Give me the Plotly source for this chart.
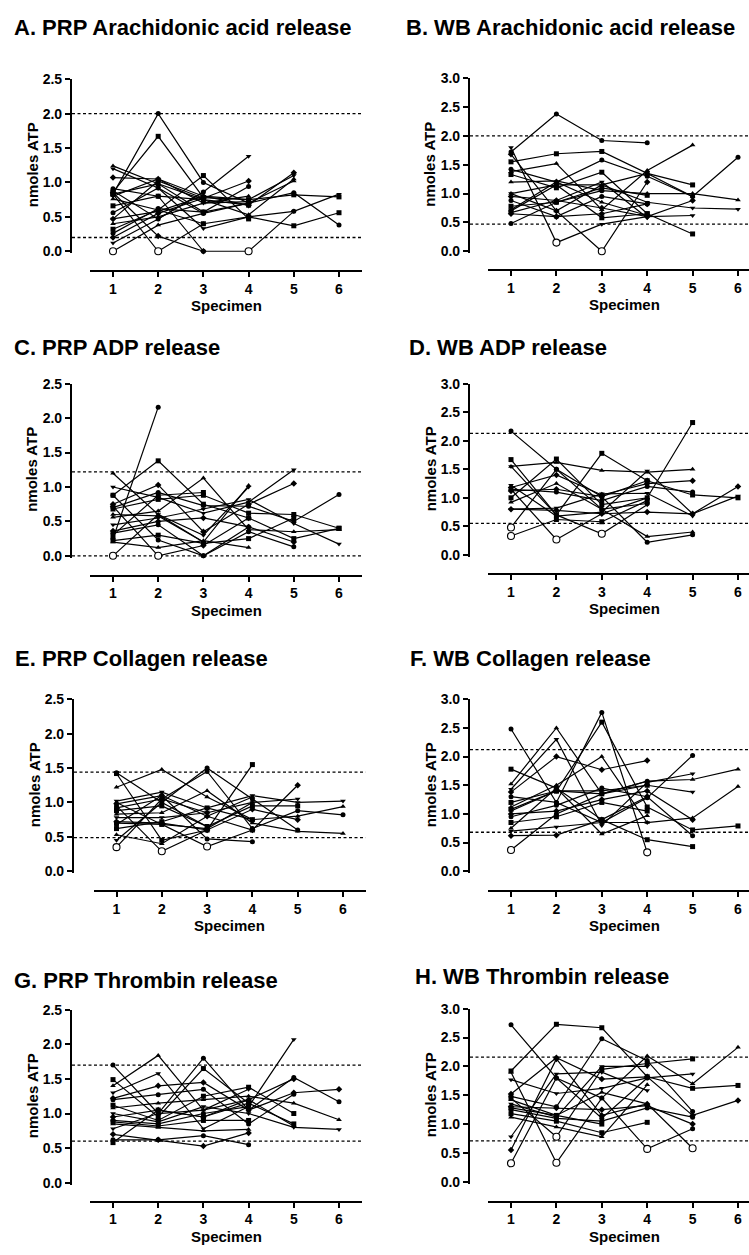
import plotly.graph_objects as go

W, H = 749, 1255

# ---------------- DATA ----------------
SPECIMENS = [1, 2, 3, 4, 5, 6]
TITLES = ["A. PRP Arachidonic acid release", "B. WB Arachidonic acid release",
          "C. PRP ADP release", "D. WB ADP release",
          "E. PRP Collagen release", "F. WB Collagen release",
          "G. PRP Thrombin release", "H. WB Thrombin release"]
Y_LABEL = "nmoles ATP"
X_LABEL = "Specimen"
YMAX = [2.5, 3.0, 2.5, 3.0, 2.5, 3.0, 2.5, 3.0]

# each inner list = one subject, values for specimen 1, 2, 3 ...
PRP_AA = [
    [0.83, 2.00, 1.00, 0.70, 0.85, 0.38],
    [0.86, 1.67, 0.78, 0.75, 0.82, 0.79],
    [1.24, 0.98, 0.75, 0.53, 1.05],
    [1.20, 0.92, 0.33, 0.50, 0.58, 0.83],
    [1.07, 1.05, 0.80, 0.67, 1.14],
    [0.91, 0.80, 0.00, 0.00, 0.58],
    [0.83, 0.00, 0.40, 0.50, 0.37, 0.56],
    [0.00, 0.38, 0.55, 0.70, 1.02],
    [0.12, 0.47, 0.86, 1.38],
    [0.20, 0.55, 0.77, 1.02],
    [0.26, 0.62, 0.57, 0.94],
    [0.32, 0.60, 1.10, 0.47],
    [0.40, 0.50, 0.70, 0.80],
    [0.47, 0.58, 0.80, 0.75, 1.10],
    [0.47, 1.02, 0.77],
    [0.56, 0.92, 0.55],
    [0.66, 0.80, 0.75, 0.67],
    [0.76, 0.60, 0.40],
    [0.80, 1.05, 0.70, 0.72],
    [0.85, 0.22, 0.00],
    [0.88, 0.47, 0.86],
    [0.83, 0.98, 0.57, 0.70],
]
PRP_AA_OPEN = [(7, 1), (6, 2), (5, 4)]
PRP_AA_REF = [0.20, 2.00]

WB_AA = [
    [1.72, 2.38, 1.92, 1.88],
    [1.55, 1.69, 1.73, 1.35, 1.15],
    [1.38, 1.52, 0.72, 1.40, 1.84],
    [1.80, 0.15, 0.47, 0.60, 0.62],
    [1.68, 0.70, 0.00, 1.20],
    [1.42, 1.20, 1.58, 1.30, 0.95, 1.63],
    [1.33, 1.10, 1.37, 0.65, 0.30],
    [1.20, 1.22, 1.05, 1.00, 1.00, 0.89],
    [1.00, 1.15, 1.15, 0.85, 0.75, 0.73],
    [0.95, 0.88, 0.75, 0.60, 0.88],
    [0.88, 0.60, 0.95, 0.82],
    [0.78, 0.85, 1.10, 0.97],
    [0.72, 1.20, 0.85, 0.62],
    [0.67, 0.88, 1.20, 0.58],
    [0.65, 0.60, 0.65, 0.82],
    [0.48, 0.85, 1.05],
    [0.70, 1.15, 0.58, 0.65],
    [1.00, 0.70, 1.15, 1.35, 0.95],
]
WB_AA_OPEN = [(3, 2), (4, 3)]
WB_AA_REF = [0.47, 2.00]

PRP_ADP = [
    [0.25, 2.16],
    [0.88, 1.38, 0.75, 0.55, 0.25, 0.40],
    [1.20, 0.60, 0.20, 1.02],
    [1.00, 0.85, 0.62, 0.78, 1.25],
    [0.75, 1.03, 0.35, 0.75, 1.05],
    [0.70, 0.92, 0.73, 0.72, 0.50, 0.89],
    [0.68, 0.82, 0.88, 0.62, 0.60, 0.40],
    [0.56, 0.65, 1.13, 0.38, 0.35, 0.38],
    [0.45, 0.55, 0.68, 0.82, 0.47, 0.17],
    [0.36, 0.50, 0.55, 0.42, 0.20],
    [0.33, 0.45, 0.00, 0.35, 0.13],
    [0.22, 0.30, 0.18, 0.25, 0.55],
    [0.20, 0.12, 0.22, 0.12],
    [0.00, 0.60, 0.30, 1.00],
    [0.72, 0.00, 0.15, 0.55],
    [0.88, 0.23, 0.00, 0.42],
    [0.30, 0.88, 0.92],
    [0.60, 0.58, 0.20],
]
PRP_ADP_OPEN = [(13, 1), (14, 2)]
PRP_ADP_REF = [0.00, 1.22]

WB_ADP = [
    [2.17, 1.50, 1.02, 0.22, 0.35],
    [1.67, 0.70, 1.78, 1.30, 1.05, 1.00],
    [1.55, 1.62, 1.48, 1.45, 1.50],
    [1.22, 0.68, 0.75, 1.47, 0.72, 1.03],
    [1.18, 1.40, 1.05, 1.25, 1.30],
    [1.15, 1.10, 0.95, 1.20, 1.10],
    [1.00, 1.68, 0.88, 1.00, 2.32],
    [0.92, 1.25, 0.80, 0.32, 0.40],
    [0.80, 0.82, 1.07, 1.08, 0.68],
    [0.80, 0.78, 0.72, 0.75, 0.72, 1.20],
    [0.48, 1.50, 0.80, 0.90],
    [0.33, 0.62, 0.58, 0.95],
    [1.15, 0.27, 0.72, 1.00],
    [1.55, 0.70, 0.37, 0.88],
    [1.12, 1.15, 1.02, 1.30],
]
WB_ADP_OPEN = [(10, 1), (11, 1), (12, 2), (13, 3)]
WB_ADP_REF = [0.55, 2.13]

PRP_COL = [
    [1.43, 1.00, 1.50, 1.05, 0.60],
    [1.42, 0.45, 0.60, 1.55],
    [1.22, 1.48, 1.08, 0.75, 0.80, 0.94],
    [1.02, 1.15, 0.92, 1.10, 1.00, 1.02],
    [0.98, 1.10, 0.80, 0.60, 1.25],
    [0.92, 1.05, 1.45, 0.62, 0.88, 0.82],
    [0.88, 0.95, 0.65, 0.95, 0.95],
    [0.83, 0.85, 1.17, 0.70, 0.58, 0.55],
    [0.78, 0.78, 0.85, 1.00, 1.05],
    [0.72, 0.70, 0.60, 0.90, 0.75],
    [0.68, 1.10, 0.47, 0.43],
    [0.62, 0.72, 0.92, 0.75],
    [0.53, 0.40, 0.80, 1.08],
    [0.45, 1.00, 0.65],
    [0.35, 1.05, 0.85],
    [0.95, 0.29, 0.60],
    [0.70, 0.68, 0.36, 0.60],
    [1.00, 0.68, 0.62, 1.00],
]
PRP_COL_OPEN = [(14, 1), (15, 2), (16, 3)]
PRP_COL_REF = [0.49, 1.44]

WB_COL = [
    [2.48, 1.20, 0.85, 1.28, 2.02],
    [1.78, 1.45, 0.90, 0.55, 0.43],
    [1.52, 2.50, 1.35, 1.57, 1.60, 1.78],
    [1.43, 2.30, 0.80, 1.55, 1.70],
    [1.38, 2.00, 1.77, 1.93],
    [1.30, 1.20, 2.77, 0.33],
    [1.20, 1.40, 2.60, 1.12, 0.72, 0.79],
    [1.12, 1.50, 2.00, 0.85, 0.93, 1.48],
    [1.05, 1.40, 1.40, 1.50, 1.38],
    [1.00, 1.05, 1.25, 1.40, 0.90],
    [0.95, 1.15, 1.45, 1.30, 0.62],
    [0.85, 0.95, 1.20, 1.05],
    [0.75, 1.45, 0.65, 0.97],
    [0.70, 0.77, 0.85, 0.85],
    [0.62, 0.63, 0.90, 1.30],
    [0.37, 1.00, 1.35, 1.57],
    [1.08, 1.40, 1.35, 1.50],
]
WB_COL_OPEN = [(5, 4), (15, 1)]
WB_COL_REF = [0.68, 2.12]

PRP_THR = [
    [1.70, 1.00, 1.80, 1.05, 1.52, 1.17],
    [1.49, 0.95, 1.65, 1.15, 0.85],
    [1.40, 1.84, 1.05, 1.20, 0.82],
    [1.30, 1.58, 0.78, 1.10, 2.07],
    [1.22, 1.40, 1.45, 1.05, 1.30, 1.35],
    [1.20, 1.27, 1.35, 0.85, 1.28],
    [1.12, 0.90, 1.25, 1.38, 1.00],
    [1.08, 1.15, 1.20, 1.25, 1.15, 0.91],
    [1.00, 0.88, 1.10, 1.00, 0.80, 0.77],
    [0.95, 1.05, 0.95, 1.20, 1.50],
    [0.90, 0.85, 1.00, 1.10],
    [0.88, 0.82, 0.90, 0.90],
    [0.85, 0.80, 0.75, 0.77],
    [0.78, 1.00, 1.05, 1.35],
    [0.70, 0.62, 0.53, 0.72],
    [0.62, 0.62, 0.68, 0.55],
    [0.58, 1.05, 0.95, 1.15],
]
PRP_THR_OPEN = []
PRP_THR_REF = [0.60, 1.70]

WB_THR = [
    [2.72, 1.80, 1.45, 0.57, 0.92],
    [1.92, 2.73, 2.67, 1.82, 1.62, 1.67],
    [1.90, 0.33, 1.45, 2.18, 1.70, 2.33],
    [1.77, 1.53, 1.62, 1.80, 1.87],
    [1.52, 2.15, 1.78, 1.82, 1.15, 1.41],
    [1.48, 1.30, 2.48, 2.10, 1.22],
    [1.45, 0.78, 1.95, 2.05, 2.13],
    [1.42, 1.15, 1.55, 1.35, 0.58],
    [1.35, 1.12, 2.00, 2.00],
    [1.30, 1.28, 1.25, 1.32, 1.00],
    [1.25, 1.10, 1.05, 1.28, 1.12],
    [1.18, 1.05, 0.85, 1.03],
    [1.12, 0.95, 0.78, 1.68],
    [0.78, 1.87, 1.90, 1.58],
    [0.55, 2.13, 1.15, 1.35],
    [0.32, 1.80, 1.10, 1.80],
    [1.28, 1.15, 1.00],
]
WB_THR_OPEN = [(0, 4), (2, 2), (6, 2), (7, 5), (15, 1)]
WB_THR_REF = [0.71, 2.16]

PANEL_DATA = [PRP_AA, WB_AA, PRP_ADP, WB_ADP, PRP_COL, WB_COL, PRP_THR, WB_THR]
PANEL_OPEN = [PRP_AA_OPEN, WB_AA_OPEN, PRP_ADP_OPEN, WB_ADP_OPEN,
              PRP_COL_OPEN, WB_COL_OPEN, PRP_THR_OPEN, WB_THR_OPEN]
PANEL_REF = [PRP_AA_REF, WB_AA_REF, PRP_ADP_REF, WB_ADP_REF,
             PRP_COL_REF, WB_COL_REF, PRP_THR_REF, WB_THR_REF]

# ---------------- LAYOUT (pixel geometry) ----------------
GEOM = [
    dict(yx=71, t1=113, unit=45.2, ytop=72, y0=246, xline=266, tx=12, ty=20),
    dict(yx=469, t1=511, unit=45.4, ytop=71, y0=246, xline=265, tx=404, ty=20),
    dict(yx=71, t1=113, unit=45.2, ytop=380, y0=554, xline=574, tx=12, ty=343),
    dict(yx=469, t1=511, unit=45.4, ytop=380, y0=553, xline=572, tx=407, ty=343),
    dict(yx=73, t1=116.5, unit=45.3, ytop=699, y0=873, xline=893, tx=13, ty=658),
    dict(yx=469, t1=511, unit=45.4, ytop=699, y0=873, xline=893, tx=408, ty=658),
    dict(yx=71, t1=113, unit=45.2, ytop=1013, y0=1188, xline=1207, tx=12, ty=983),
    dict(yx=469, t1=511, unit=45.4, ytop=1012, y0=1187, xline=1207, tx=413, ty=979),
]

FONT = "Liberation Sans, Arial, Helvetica, sans-serif"
SYMBOLS = ["circle", "square", "triangle-up", "triangle-down", "diamond"]


def px_x(px):
    return px / W


def px_y(py):
    return 1 - py / H


fig = go.Figure()
layout = {}
annotations = []
shapes = []

for i in range(8):
    g = GEOM[i]
    sfx = "" if i == 0 else str(i + 1)
    xa, ya = "x" + sfx, "y" + sfx
    ymax = YMAX[i]
    unit = g["unit"]
    xl_px = g["t1"] - 0.5 * unit
    xr_px = min(g["t1"] + 5.5 * unit, W)
    xrange = [0.5, 1 + (xr_px - g["t1"]) / unit]
    ppu = (g["y0"] - g["ytop"]) / ymax
    ylo = -0.012 * ymax
    ybot_px = g["y0"] - ylo * ppu

    layout["xaxis" + sfx] = dict(
        domain=[px_x(xl_px), px_x(xr_px)], range=xrange, anchor="free",
        position=px_y(g["xline"]), showline=True, linecolor="black", linewidth=2.2,
        ticks="outside", ticklen=5, tickwidth=2, tickcolor="black",
        tickvals=SPECIMENS, ticktext=[str(s) for s in SPECIMENS],
        tickfont=dict(family=FONT, size=14, color="black", weight="bold"),
        showgrid=False, zeroline=False, fixedrange=True)
    layout["yaxis" + sfx] = dict(
        domain=[px_y(ybot_px), px_y(g["ytop"])], range=[ylo, ymax], anchor="free",
        position=px_x(g["yx"]), showline=True, linecolor="black", linewidth=2.2,
        ticks="outside", ticklen=5, tickwidth=2, tickcolor="black",
        tick0=0, dtick=0.5, tickformat=".1f",
        tickfont=dict(family=FONT, size=14, color="black", weight="bold"),
        showgrid=False, zeroline=False, fixedrange=True)

    # reference lines
    for r in PANEL_REF[i]:
        shapes.append(dict(type="line", xref="paper", yref=ya,
                           x0=px_x(g["yx"] + 1), x1=px_x(xr_px), y0=r, y1=r,
                           line=dict(color="black", width=1.3, dash="3px,2.5px"),
                           layer="below"))

    # subject lines
    for k, series in enumerate(PANEL_DATA[i]):
        fig.add_trace(go.Scatter(
            x=SPECIMENS[:len(series)], y=series, mode="lines+markers",
            xaxis=xa, yaxis=ya, cliponaxis=False, showlegend=False,
            line=dict(color="black", width=1.2),
            marker=dict(symbol=SYMBOLS[k % len(SYMBOLS)], size=5, color="black",
                        line=dict(width=0)),
            hoverinfo="skip"))

    # open circles
    opens = PANEL_OPEN[i]
    if opens:
        fig.add_trace(go.Scatter(
            x=[s for (_, s) in opens],
            y=[PANEL_DATA[i][k][s - 1] for (k, s) in opens],
            mode="markers", xaxis=xa, yaxis=ya, cliponaxis=False, showlegend=False,
            marker=dict(symbol="circle", size=7, color="white",
                        line=dict(color="black", width=1.1)),
            hoverinfo="skip"))

    # titles
    annotations.append(dict(text=TITLES[i], xref="paper", yref="paper",
                            x=px_x(g["tx"]), y=px_y(g["ty"]), xanchor="left",
                            yanchor="middle", showarrow=False,
                            font=dict(family=FONT, size=22, color="black", weight="bold")))
    annotations.append(dict(text=Y_LABEL, xref="paper", yref="paper",
                            x=px_x(g["yx"] - 39), y=px_y((g["ytop"] + g["y0"]) / 2),
                            textangle=-90, xanchor="center", yanchor="middle",
                            showarrow=False,
                            font=dict(family=FONT, size=15, color="black", weight="bold")))
    annotations.append(dict(text=X_LABEL, xref=xa, yref="paper",
                            x=3.5, y=px_y(g["xline"] + 35),
                            xanchor="center", yanchor="middle", showarrow=False,
                            font=dict(family=FONT, size=15, color="black", weight="bold")))

fig.update_layout(**layout)
fig.update_layout(width=W, height=H, autosize=False,
                  margin=dict(l=0, r=0, t=0, b=0, pad=0),
                  paper_bgcolor="white", plot_bgcolor="white",
                  annotations=annotations, shapes=shapes,
                  font=dict(family=FONT, color="black"))

fig.write_html("out.html")
